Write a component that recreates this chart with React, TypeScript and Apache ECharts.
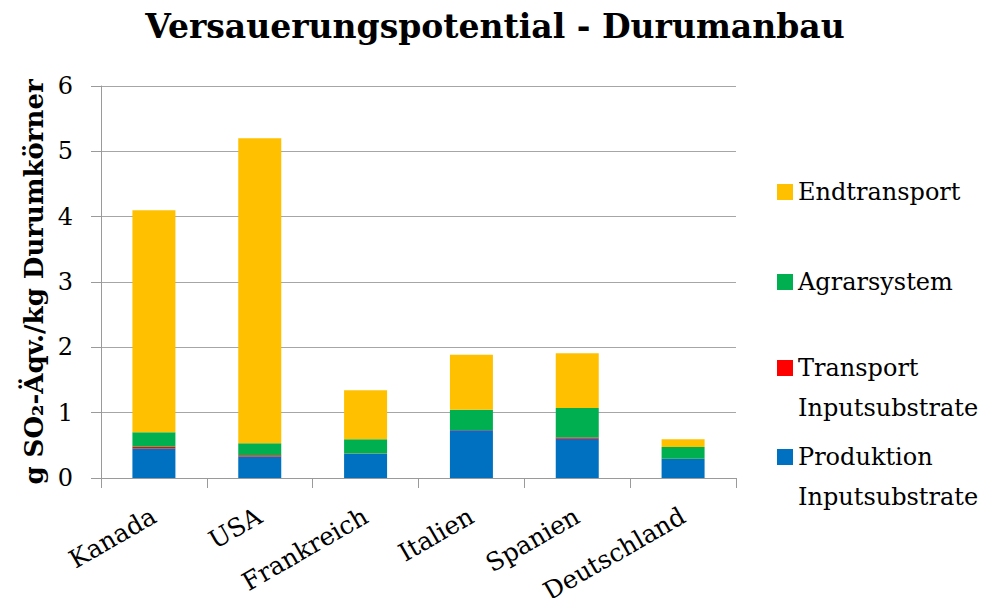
import React, { useEffect, useRef } from "react";
import * as echarts from "echarts";

const categories = ["Kanada", "USA", "Frankreich", "Italien", "Spanien", "Deutschland"];
const produktion = [0.45, 0.33, 0.37, 0.73, 0.6, 0.29];
const transport = [0.03, 0.02, 0.005, 0.005, 0.02, 0.003];
const agrar = [0.22, 0.18, 0.22, 0.31, 0.45, 0.18];
const endtransport = [3.4, 4.67, 0.75, 0.84, 0.84, 0.12];
const yTicks = [0, 1, 2, 3, 4, 5, 6];

const SERIF = "DejaVu Serif";

export default function App() {
  const ref = useRef<HTMLDivElement>(null);
  useEffect(() => {
    if (!ref.current) return;
    const chart = echarts.init(ref.current, undefined, { renderer: "svg" });
    const names = [
      "Produktion\nInputsubstrate",
      "Transport\nInputsubstrate",
      "Agrarsystem",
      "Endtransport",
    ];
    const colors = ["#0070C0", "#FF0000", "#00B050", "#FFC000"];
    const datasets = [produktion, transport, agrar, endtransport];
    const L = 40;
    const legendBase = {
      orient: "vertical",
      left: 777,
      padding: 0,
      itemWidth: 16,
      itemHeight: 16,
      itemGap: 10,
      icon: "rect",
      selectedMode: false,
    };
    const twoLineText = { fontFamily: SERIF, fontSize: 24, color: "#000", lineHeight: L };
    chart.setOption({
      animation: false,
      backgroundColor: "#ffffff",
      title: {
        text: "Versauerungspotential - Durumanbau",
        left: "center",
        top: 5,
        textStyle: { fontFamily: SERIF, fontWeight: "bold", fontSize: 33, color: "#000" },
      },
      legend: [
        {
          ...legendBase,
          top: 192 - 15,
          data: ["Endtransport"],
          textStyle: { fontFamily: SERIF, fontSize: 24, color: "#000", lineHeight: 30 },
        },
        {
          ...legendBase,
          top: 282 - 15,
          data: ["Agrarsystem"],
          textStyle: { fontFamily: SERIF, fontSize: 24, color: "#000", lineHeight: 30 },
        },
        {
          ...legendBase,
          top: 368 - 1.5 * L,
          data: ["Transport\nInputsubstrate"],
          formatter: (n: string) => "\n" + n,
          textStyle: twoLineText,
        },
        {
          ...legendBase,
          top: 457 - 1.5 * L,
          data: ["Produktion\nInputsubstrate"],
          formatter: (n: string) => "\n" + n,
          textStyle: twoLineText,
        },
      ],
      grid: { left: 101, right: 254, top: 86, bottom: 128, containLabel: false },
      xAxis: {
        type: "category",
        data: categories,
        axisLine: { show: true, lineStyle: { color: "#9a9a9a", width: 1 } },
        axisTick: { show: true, length: 10, lineStyle: { color: "#9a9a9a" } },
        axisLabel: {
          rotate: 30,
          margin: 36,
          interval: 0,
          fontFamily: SERIF,
          fontSize: 25,
          color: "#000",
        },
      },
      yAxis: {
        type: "value",
        min: 0,
        max: 6,
        interval: 1,
        name: "g SO₂-Äqv./kg Durumkörner",
        nameLocation: "middle",
        nameGap: 51,
        nameTextStyle: { fontFamily: SERIF, fontWeight: "bold", fontSize: 26, color: "#000" },
        axisLine: { show: true, lineStyle: { color: "#9a9a9a", width: 1 } },
        axisTick: { show: true, length: 10, lineStyle: { color: "#9a9a9a" } },
        axisLabel: {
          margin: 28,
          fontFamily: SERIF,
          fontSize: 24,
          color: "#000",
          formatter: (v: number) => (yTicks.includes(v) ? String(v) : ""),
        },
        splitLine: { show: true, lineStyle: { color: "#a6a6a6", width: 1 } },
      },
      series: names.map((n, i) => ({
        name: n,
        type: "bar",
        stack: "total",
        barWidth: 43,
        data: datasets[i],
        itemStyle: { color: colors[i] },
      })),
    });
    return () => chart.dispose();
  }, []);
  return <div ref={ref} style={{ width: 990, height: 606, margin: -8 }} />;
}
